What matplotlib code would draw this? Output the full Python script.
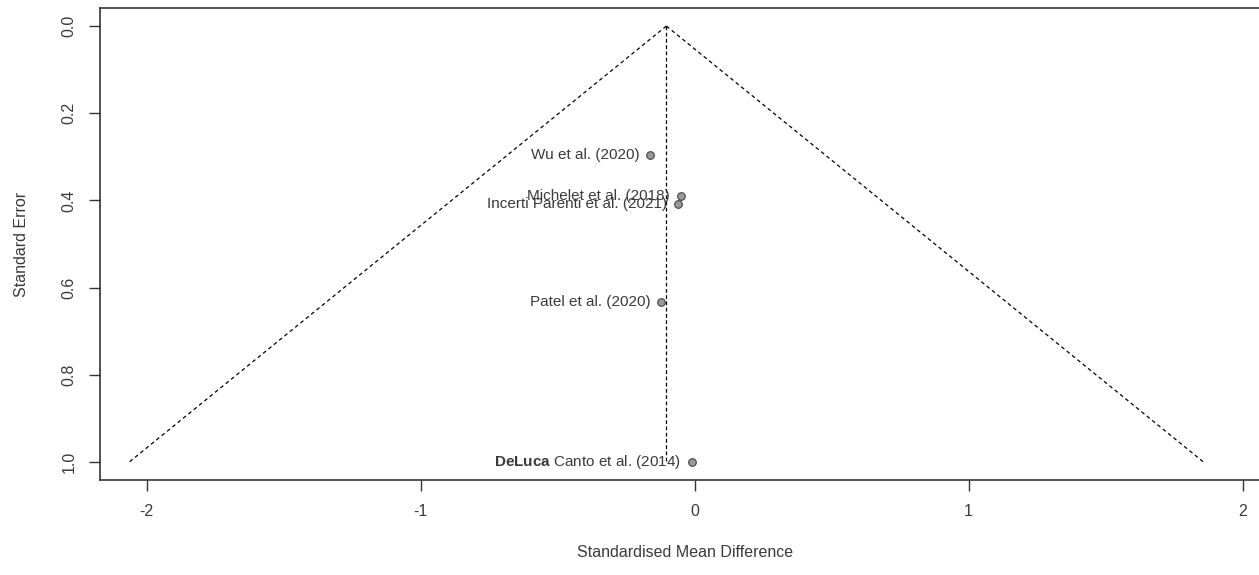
import numpy as np
import matplotlib.pyplot as plt

plt.rcParams['font.family'] = ['Liberation Sans', 'DejaVu Sans']
plt.rcParams['mathtext.fontset'] = 'custom'
plt.rcParams['mathtext.bf'] = 'Liberation Sans:bold'
plt.rcParams['mathtext.rm'] = 'Liberation Sans'

# studies
studies = ["Wu et al. (2020)", "Michelet et al. (2018)", "Incerti Parenti et al. (2021)",
           "Patel et al. (2020)", r"$\bf{DeLuca}$ Canto et al. (2014)"]
smd = [-0.161, -0.051, -0.061, -0.121, -0.009]
se = [0.295, 0.389, 0.408, 0.634, 1.0]

center = -0.103   # pooled estimate
se_max = 1.0
z = 1.96

txt = '#3a3a3a'

fig = plt.figure(figsize=(12.59, 5.75), dpi=100)
# right edge of the box is cut off in the original, so the axes run past the figure
ax = fig.add_axes([100/1259, 1 - 480/575, 1170/1259, 472/575])

# pseudo confidence funnel
se_line = np.array([0.0, se_max])
ax.plot(center - z*se_line, se_line, color='k', lw=0.9, ls=(0, (3, 2.5)))
ax.plot(center + z*se_line, se_line, color='k', lw=0.9, ls=(0, (3, 2.5)))
ax.plot([center, center], [0, se_max], color='k', lw=0.9, ls=(0, (3, 2)))

ax.plot(smd, se, 'o', ms=5.5, mfc='#999999', mec='#444444', mew=0.8, ls='none', zorder=3)
for s, x, y in zip(studies, smd, se):
    ax.annotate(s, (x, y), xytext=(-8, 0), textcoords='offset points',
                ha='right', va='center', fontsize=11, color=txt)

ax.set_xlim(-2.17, 2.1)
ax.set_ylim(1.0414, -0.0414)
ax.set_xticks([-2, -1, 0, 1, 2])
ax.set_xticklabels(['-2', '-1', '0', '1', '2'])
ax.set_yticks([0.0, 0.2, 0.4, 0.6, 0.8, 1.0])
ax.set_yticklabels(['0.0', '0.2', '0.4', '0.6', '0.8', '1.0'], rotation=90, va='center')
ax.tick_params(direction='out', length=8, width=1, color='#333333', labelsize=11.5,
               labelcolor=txt, pad=9)
for sp in ax.spines.values():
    sp.set_color('#333333')
    sp.set_linewidth(1.2)

ax.set_xlabel('Standardised Mean Difference', fontsize=11.5, color=txt, labelpad=19)
ax.set_ylabel('Standard Error', fontsize=11.5, color=txt, labelpad=23)

fig.savefig('out.png', dpi=100)
